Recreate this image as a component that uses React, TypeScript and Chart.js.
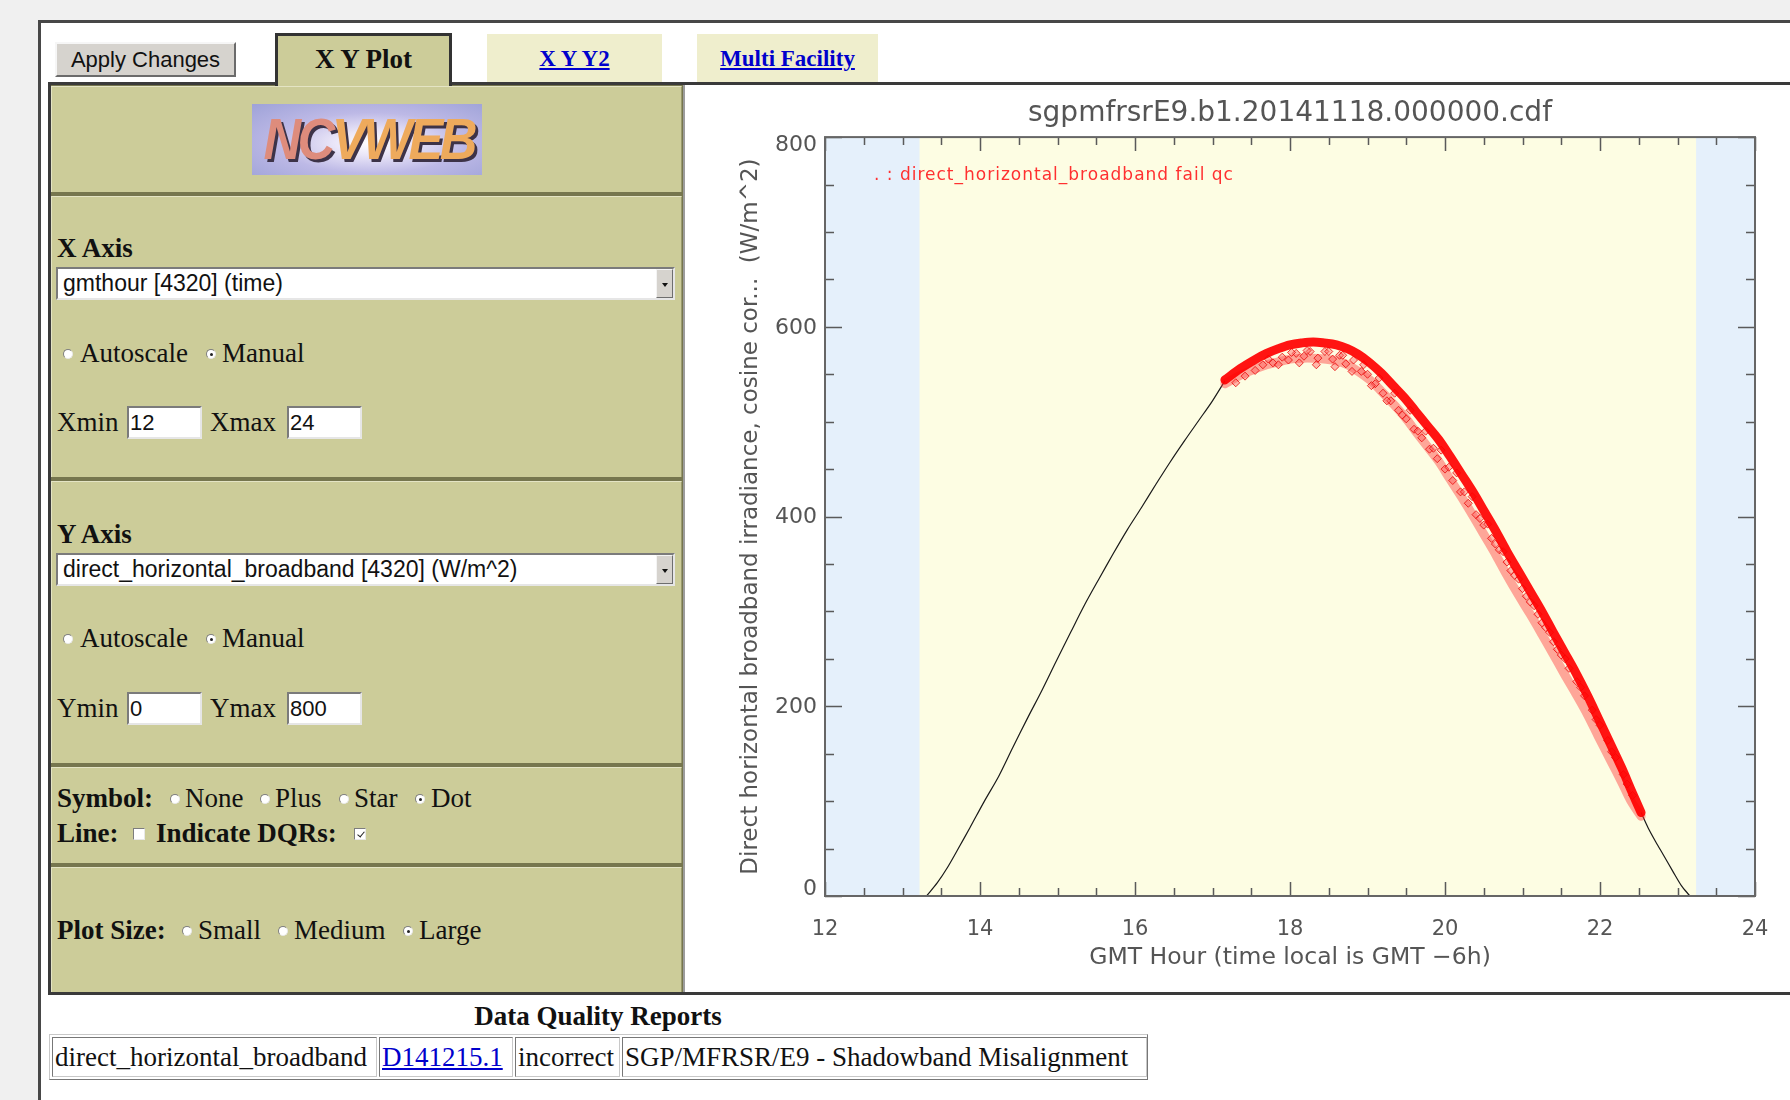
import React, { useEffect, useRef } from 'react';
import { Chart, registerables } from 'chart.js';

Chart.register(...registerables);

// ---------------- chart data ----------------
const chartTitle = 'sgpmfrsrE9.b1.20141118.000000.cdf';
const xAxisTitle = 'GMT Hour (time local is GMT \u22126h)';
const yAxisTitle = 'Direct horizontal broadband irradiance, cosine cor...  (W/m^2)';
const qcLabel = '. : direct_horizontal_broadband fail qc';

const xLimits = [12, 24];
const yLimits = [0, 800];
const xMajorStep = 2;
const xMinorStep = 0.5;
const yMajorStep = 200;
const yMinorStep = 50;

// night (sun below horizon) shading, GMT hours
const nightBands = [
  [12, 13.22],
  [23.24, 24],
];

// good-quality samples (black dots) before the DQR period
const riseHours = [13.31, 13.45, 13.58, 13.72, 13.87, 14.05, 14.24, 14.42, 14.61, 14.8, 14.98, 15.17, 15.35, 15.54, 15.72, 15.9, 16.08, 16.27, 16.45, 16.64, 16.82, 17.0, 17.16];
const riseValues = [0, 14, 30, 50, 72, 99, 126, 156, 187, 217, 247, 278, 307, 335, 361, 386, 409, 434, 457, 480, 501, 522, 543];

// good-quality samples after the DQR period
const setHours = [22.53, 22.62, 22.72, 22.82, 22.94, 23.05, 23.16];
const setValues = [88, 72, 57, 43, 26, 11, 0];

// samples flagged by the DQR (red): dense core of the band
const failHours = [17.16, 17.36, 17.56, 17.7, 17.85, 18.0, 18.15, 18.3, 18.44, 18.6, 18.74, 18.88, 19.03, 19.18, 19.33, 19.48, 19.62, 19.77, 19.92, 20.06, 20.21, 20.36, 20.51, 20.66, 20.8, 20.95, 21.1, 21.25, 21.39, 21.54, 21.69, 21.84, 21.98, 22.13, 22.28, 22.4, 22.53];
const failValues = [544, 556, 566, 572, 577, 581, 583, 584, 583, 581, 577, 571, 562, 551, 538, 525, 511, 496, 481, 464, 445, 426, 405, 384, 363, 342, 321, 300, 279, 257, 235, 211, 187, 161, 135, 112, 88];
// lower (fuzzy) edge of the flagged band
const failLowerValues = [540, 549, 556, 560, 563, 566, 567, 567, 566, 564, 560, 553, 544, 532, 519, 505, 490, 474, 458, 440, 421, 401, 380, 359, 338, 317, 297, 276, 256, 234, 213, 191, 168, 144, 120, 100, 84];

// flagged samples scattered below the core
const failScatterHours = [17.3, 17.42, 17.55, 17.65, 17.78, 17.9, 17.98, 18.08, 18.18, 18.26, 18.36, 18.45, 18.55, 18.64, 18.72, 18.82, 18.92, 19.0, 19.1, 19.2, 19.3, 19.4, 19.5, 19.6, 19.7, 19.8, 19.9, 20.0, 20.1, 20.2, 20.3, 20.4, 20.5, 20.6, 20.7, 20.8, 20.9, 21.0, 21.1, 21.2, 21.3, 21.4, 21.5, 21.6, 21.7, 21.8, 21.9, 22.0, 22.1, 22.2, 22.3, 22.42, 17.85, 18.12, 18.34, 18.58, 18.8, 19.05, 19.25, 19.45, 19.65, 19.85, 20.05, 20.25, 20.45, 20.65, 20.85, 21.05, 21.25, 21.45, 17.72, 18.02, 18.22, 18.5, 18.68, 18.95, 19.15, 19.35, 19.55, 19.75, 19.95, 20.15, 20.35, 20.55, 20.75, 20.95, 21.15, 21.35, 21.55, 21.75, 21.95, 22.15, 22.35];
const failScatterValues = [541, 548, 554, 560, 562, 568, 565, 572, 569, 574, 567, 574, 566, 570, 561, 565, 553, 550, 540, 530, 522, 512, 503, 492, 483, 471, 461, 450, 438, 426, 414, 402, 391, 377, 365, 352, 338, 324, 310, 297, 283, 268, 254, 240, 226, 211, 196, 180, 164, 146, 128, 106, 560, 562, 560, 558, 553, 538, 522, 507, 490, 472, 452, 426, 398, 371, 343, 316, 288, 260, 566, 573, 575, 574, 570, 560, 546, 530, 512, 490, 470, 446, 421, 392, 363, 334, 306, 278, 250, 220, 186, 152, 118];

const dayColor = '#fdfde3';
const nightColor = '#e5f0fb';
const chartFont = '"DejaVu Sans", "Noto Sans", sans-serif';

const toPoints = (xs: number[], ys: number[]) => xs.map((x, i) => ({ x, y: ys[i] }));

const isMultiple = (v: number, step: number) => Math.abs(v / step - Math.round(v / step)) < 1e-6;

const ncvPlugin = {
  id: 'ncvPlugin',
  beforeDraw(chart: any) {
    const { ctx, chartArea: a, scales } = chart;
    const xs = scales.x;
    ctx.save();
    ctx.fillStyle = '#ffffff';
    ctx.fillRect(0, 0, chart.width, chart.height);
    ctx.fillStyle = dayColor;
    ctx.fillRect(a.left, a.top, a.right - a.left, a.bottom - a.top);
    ctx.fillStyle = nightColor;
    nightBands.forEach(([s, e]) => {
      const x0 = xs.getPixelForValue(s);
      const x1 = xs.getPixelForValue(e);
      ctx.fillRect(x0, a.top, x1 - x0, a.bottom - a.top);
    });
    ctx.restore();
  },
  afterDraw(chart: any) {
    const { ctx, chartArea: a, scales } = chart;
    const xs = scales.x;
    const ys = scales.y;
    ctx.save();
    // inward tick marks on all four sides
    ctx.strokeStyle = '#5a5a5a';
    ctx.lineWidth = 1.5;
    ctx.beginPath();
    for (let v = xLimits[0]; v <= xLimits[1] + 1e-9; v += xMinorStep) {
      const px = Math.round(xs.getPixelForValue(v)) + 0.5;
      const len = isMultiple(v, xMajorStep) ? 14 : 8;
      ctx.moveTo(px, a.bottom);
      ctx.lineTo(px, a.bottom - len);
      ctx.moveTo(px, a.top);
      ctx.lineTo(px, a.top + len);
    }
    for (let v = yLimits[0]; v <= yLimits[1] + 1e-9; v += yMinorStep) {
      const py = Math.round(ys.getPixelForValue(v)) + 0.5;
      const len = isMultiple(v, yMajorStep) ? 17 : 9;
      ctx.moveTo(a.left, py);
      ctx.lineTo(a.left + len, py);
      ctx.moveTo(a.right, py);
      ctx.lineTo(a.right - len, py);
    }
    ctx.stroke();
    ctx.lineWidth = 2;
    ctx.strokeStyle = '#666666';
    ctx.strokeRect(a.left, a.top, a.right - a.left, a.bottom - a.top);

    // y tick labels, kept inside the axis range like the original plot
    ctx.fillStyle = '#555';
    ctx.font = '22px ' + chartFont;
    ctx.textAlign = 'right';
    ctx.textBaseline = 'middle';
    ys.ticks.forEach((t: any) => {
      const py = ys.getPixelForValue(t.value);
      const cy = Math.min(Math.max(py + 1, a.top + 8), a.bottom - 7);
      ctx.fillText(String(t.value), a.left - 8, cy);
    });

    // DQR legend text
    ctx.textAlign = 'left';
    ctx.fillStyle = '#ff3030';
    ctx.font = '17px ' + chartFont;
    try {
      (ctx as any).letterSpacing = '1px';
    } catch (e) {}
    ctx.fillText(qcLabel, a.left + 49, a.top + 38);
    ctx.restore();
  },
};

// ---------------- page helpers ----------------
const serif = '"Liberation Serif", "Times New Roman", serif';
const sans = '"Liberation Sans", Arial, sans-serif';
const khaki = '#cccc99';

function Txt(props: { x: number; cy: number; size?: number; bold?: boolean; family?: string; color?: string; underline?: boolean; children: any }) {
  const size = props.size ?? 27;
  return (
    <div
      style={{
        position: 'absolute',
        left: props.x,
        top: props.cy - size * 0.6,
        height: size * 1.2,
        lineHeight: `${size * 1.2}px`,
        fontSize: size,
        fontFamily: props.family ?? serif,
        fontWeight: props.bold ? 'bold' : 'normal',
        color: props.color ?? '#111',
        textDecoration: props.underline ? 'underline' : 'none',
        whiteSpace: 'nowrap',
      }}
    >
      {props.children}
    </div>
  );
}

function Radio({ x, cy, on }: { x: number; cy: number; on?: boolean }) {
  return (
    <div
      style={{
        position: 'absolute',
        left: x - 5,
        top: cy - 5,
        width: 10,
        height: 10,
        borderRadius: '50%',
        background: '#fff',
        boxSizing: 'border-box',
        border: '1px solid',
        borderColor: '#7d7d7d #e8e8e8 #e8e8e8 #7d7d7d',
      }}
    >
      {on && <div style={{ position: 'absolute', left: 2.5, top: 2.5, width: 3, height: 3, borderRadius: '50%', background: '#222' }} />}
    </div>
  );
}

function Check({ x, cy, on }: { x: number; cy: number; on?: boolean }) {
  return (
    <div
      style={{
        position: 'absolute',
        left: x - 6,
        top: cy - 6,
        width: 12,
        height: 12,
        background: '#fff',
        boxSizing: 'border-box',
        border: '1px solid',
        borderColor: '#7d7d7d #e8e8e8 #e8e8e8 #7d7d7d',
      }}
    >
      {on && (
        <div
          style={{
            position: 'absolute',
            left: 3.5,
            top: 0.5,
            width: 3,
            height: 6,
            borderRight: '1.5px solid #222',
            borderBottom: '1.5px solid #222',
            transform: 'rotate(40deg)',
          }}
        />
      )}
    </div>
  );
}

function SelectBox({ x, y, w, h, text }: { x: number; y: number; w: number; h: number; text: string }) {
  return (
    <div
      style={{
        position: 'absolute',
        left: x,
        top: y,
        width: w,
        height: h,
        boxSizing: 'border-box',
        background: '#fff',
        border: '2px solid',
        borderColor: '#7b7b7b #e6e6e6 #e6e6e6 #7b7b7b',
      }}
    >
      <div style={{ position: 'absolute', left: 5, top: 0, height: h - 4, lineHeight: `${h - 4}px`, fontFamily: sans, fontSize: 23, color: '#111', whiteSpace: 'nowrap' }}>{text}</div>
      <div
        style={{
          position: 'absolute',
          right: 0,
          top: 0,
          width: 17,
          height: h - 4,
          boxSizing: 'border-box',
          background: '#d6d3ce',
          border: '1px solid',
          borderColor: '#f4f4f4 #6e6e6e #6e6e6e #f4f4f4',
        }}
      >
        <div style={{ position: 'absolute', left: 5, top: (h - 4) / 2 - 2, width: 0, height: 0, borderLeft: '3px solid transparent', borderRight: '3px solid transparent', borderTop: '4px solid #111' }} />
      </div>
    </div>
  );
}

function InputBox({ x, y, text }: { x: number; y: number; text: string }) {
  return (
    <div
      style={{
        position: 'absolute',
        left: x,
        top: y,
        width: 75,
        height: 33,
        boxSizing: 'border-box',
        background: '#fff',
        border: '2px solid',
        borderColor: '#7b7b7b #e6e6e6 #e6e6e6 #7b7b7b',
        fontFamily: sans,
        fontSize: 22,
        lineHeight: '29px',
        paddingLeft: 1,
        color: '#111',
      }}
    >
      {text}
    </div>
  );
}

const sections = [
  [86, 192],
  [196, 477],
  [481, 763],
  [767, 863],
  [867, 992],
];

const dqrCells = [
  { x0: 50, x1: 377, text: 'direct_horizontal_broadband', link: false },
  { x0: 377, x1: 513, text: 'D141215.1', link: true },
  { x0: 513, x1: 620, text: 'incorrect', link: false },
  { x0: 620, x1: 1147, text: 'SGP/MFRSR/E9 - Shadowband Misalignment', link: false },
];

export default function App() {
  const canvasRef = useRef<HTMLCanvasElement>(null);

  useEffect(() => {
    if (!canvasRef.current) return;
    const chart = new Chart(canvasRef.current, {
      type: 'scatter',
      data: {
        datasets: [
          {
            label: 'rise',
            data: toPoints(riseHours, riseValues),
            showLine: true,
            borderColor: '#1a1a1a',
            borderWidth: 1.2,
            pointRadius: 0,
            tension: 0.3,
            order: 5,
          },
          {
            label: 'set',
            data: toPoints(setHours, setValues),
            showLine: true,
            borderColor: '#1a1a1a',
            borderWidth: 1.2,
            pointRadius: 0,
            tension: 0.3,
            order: 5,
          },
          {
            label: 'fail lower edge',
            data: toPoints(failHours, failLowerValues),
            showLine: true,
            borderColor: 'rgba(255,60,60,0.45)',
            borderWidth: 9,
            borderCapStyle: 'round',
            pointRadius: 0,
            tension: 0.35,
            order: 4,
          },
          {
            label: 'fail scatter',
            data: toPoints(failScatterHours, failScatterValues),
            showLine: false,
            pointStyle: 'rectRot',
            pointRadius: 4,
            pointBorderWidth: 1,
            pointBorderColor: 'rgba(230,0,0,0.75)',
            pointBackgroundColor: 'rgba(255,100,100,0.45)',
            order: 3,
          },
          {
            label: 'fail core',
            data: toPoints(failHours, failValues),
            showLine: true,
            borderColor: 'rgba(255,0,0,0.92)',
            borderWidth: 9,
            borderCapStyle: 'round',
            pointRadius: 0,
            tension: 0.35,
            order: 2,
          },
        ],
      } as any,
      options: {
        animation: false,
        responsive: false,
        devicePixelRatio: 1,
        events: [],
        layout: { padding: { left: 40, right: 35, top: 0, bottom: 0 } },
        plugins: {
          legend: { display: false },
          tooltip: { enabled: false },
          title: {
            display: true,
            text: chartTitle,
            fullSize: false,
            color: '#555',
            font: { family: chartFont, size: 28, weight: 'normal' },
            padding: { top: 8, bottom: 6.5 },
          },
        },
        scales: {
          x: {
            type: 'linear',
            min: xLimits[0],
            max: xLimits[1],
            grid: { display: false },
            border: { display: false },
            ticks: { stepSize: xMajorStep, color: '#555', padding: 13, font: { family: chartFont, size: 21 } },
            title: { display: true, text: xAxisTitle, color: '#555', font: { family: chartFont, size: 23.5 }, padding: { top: 0, bottom: 19 } },
            afterFit: (s: any) => {
              s.height = 95;
            },
          },
          y: {
            type: 'linear',
            min: yLimits[0],
            max: yLimits[1],
            grid: { display: false },
            border: { display: false },
            ticks: { display: false, stepSize: yMajorStep },
            title: { display: true, text: yAxisTitle, color: '#555', font: { family: chartFont, size: 23 }, padding: { top: 12, bottom: 0 } },
            afterFit: (s: any) => {
              s.width = 100;
            },
          },
        },
      } as any,
      plugins: [ncvPlugin],
    });
    return () => chart.destroy();
  }, []);

  return (
    <div style={{ position: 'absolute', left: 0, top: 0, width: 1790, height: 1100, overflow: 'hidden', background: '#f0f0f0' }}>
      {/* outer page frame */}
      <div style={{ position: 'absolute', left: 38, top: 20, width: 1800, height: 1200, background: '#fff', borderLeft: '3px solid #474747', borderTop: '3px solid #474747' }} />

      {/* Apply Changes button */}
      <div
        style={{
          position: 'absolute',
          left: 55,
          top: 42,
          width: 181,
          height: 35,
          boxSizing: 'border-box',
          background: '#d6d3ce',
          border: '2px solid',
          borderColor: '#f6f6f6 #6b6b6b #6b6b6b #f6f6f6',
          fontFamily: sans,
          fontSize: 22,
          lineHeight: '31px',
          textAlign: 'center',
          color: '#111',
        }}
      >
        Apply Changes
      </div>

      {/* main container */}
      <div style={{ position: 'absolute', left: 48, top: 82, width: 1800, height: 913, boxSizing: 'border-box', border: '3px solid #3a3a3a', background: '#fff' }} />

      {/* tabs */}
      <div style={{ position: 'absolute', left: 275, top: 33, width: 177, height: 53, boxSizing: 'border-box', background: khaki, borderTop: '3px solid #333', borderLeft: '3px solid #333', borderRight: '3px solid #333', zIndex: 2 }}>
        <div style={{ textAlign: 'center', fontFamily: serif, fontWeight: 'bold', fontSize: 27, lineHeight: '46px', color: '#111' }}>X Y Plot</div>
      </div>
      <div style={{ position: 'absolute', left: 487, top: 34, width: 175, height: 48, background: '#efeecd', textAlign: 'center', fontFamily: serif, fontWeight: 'bold', fontSize: 23, lineHeight: '50px', color: '#0000cc', textDecoration: 'underline' }}>X Y Y2</div>
      <div style={{ position: 'absolute', left: 697, top: 34, width: 181, height: 48, background: '#efeecd', textAlign: 'center', fontFamily: serif, fontWeight: 'bold', fontSize: 23, lineHeight: '50px', color: '#0000cc', textDecoration: 'underline' }}>Multi Facility</div>

      {/* left control panel */}
      <div style={{ position: 'absolute', left: 51, top: 85, width: 633, height: 907, background: '#76764e' }} />
      {sections.map(([t, b], i) => (
        <div
          key={i}
          style={{ position: 'absolute', left: 51, top: t, width: 631, height: b - t, boxSizing: 'border-box', background: khaki, borderTop: '1px solid #e4e4c4', borderLeft: '1px solid #e4e4c4', borderRight: '1px solid #9a9a70' }}
        />
      ))}
      <div style={{ position: 'absolute', left: 683, top: 85, width: 2, height: 907, background: '#9c9c9c' }} />

      {/* logo */}
      <div
        style={{
          position: 'absolute',
          left: 252,
          top: 104,
          width: 230,
          height: 71,
          overflow: 'hidden',
          background: 'radial-gradient(ellipse at 52% 55%, #ffffff 0%, #eae6f8 22%, #bdb9e6 55%, #9ea2d8 100%)',
        }}
      >
        <div
          style={{
            position: 'absolute',
            left: 0,
            width: 230,
            top: 4,
            textAlign: 'center',
            fontFamily: sans,
            fontWeight: 'bold',
            fontStyle: 'italic',
            fontSize: 58,
            lineHeight: '62px',
            letterSpacing: -4,
            transform: 'scaleX(0.9)',
            textShadow: '3px 3px 0 #3d3348',
          }}
        >
          <span style={{ color: '#de8c7c' }}>NC</span>
          <span style={{ color: '#eeaa5c' }}>VWEB</span>
        </div>
      </div>

      {/* X axis section */}
      <Txt x={57} cy={248} bold>X Axis</Txt>
      <SelectBox x={56} y={267} w={619} h={33} text="gmthour [4320] (time)" />
      <Radio x={68} cy={354} />
      <Txt x={80} cy={353}>Autoscale</Txt>
      <Radio x={211} cy={354} on />
      <Txt x={222} cy={353}>Manual</Txt>
      <Txt x={57} cy={422}>Xmin</Txt>
      <InputBox x={127} y={406} text="12" />
      <Txt x={210} cy={422}>Xmax</Txt>
      <InputBox x={287} y={406} text="24" />

      {/* Y axis section */}
      <Txt x={57} cy={534} bold>Y Axis</Txt>
      <SelectBox x={56} y={553} w={619} h={33} text="direct_horizontal_broadband [4320] (W/m^2)" />
      <Radio x={68} cy={639} />
      <Txt x={80} cy={638}>Autoscale</Txt>
      <Radio x={211} cy={639} on />
      <Txt x={222} cy={638}>Manual</Txt>
      <Txt x={57} cy={708}>Ymin</Txt>
      <InputBox x={127} y={692} text="0" />
      <Txt x={210} cy={708}>Ymax</Txt>
      <InputBox x={287} y={692} text="800" />

      {/* symbol section */}
      <Txt x={57} cy={798} bold>Symbol:</Txt>
      <Radio x={175} cy={799} />
      <Txt x={185} cy={798}>None</Txt>
      <Radio x={265} cy={799} />
      <Txt x={275} cy={798}>Plus</Txt>
      <Radio x={344} cy={799} />
      <Txt x={354} cy={798}>Star</Txt>
      <Radio x={420} cy={799} on />
      <Txt x={431} cy={798}>Dot</Txt>
      <Txt x={57} cy={833} bold>Line:</Txt>
      <Check x={139} cy={834} />
      <Txt x={156} cy={833} bold>Indicate DQRs:</Txt>
      <Check x={360} cy={834} on />

      {/* plot size section */}
      <Txt x={57} cy={930} bold>Plot Size:</Txt>
      <Radio x={187} cy={931} />
      <Txt x={198} cy={930}>Small</Txt>
      <Radio x={283} cy={931} />
      <Txt x={294} cy={930}>Medium</Txt>
      <Radio x={408} cy={931} on />
      <Txt x={419} cy={930}>Large</Txt>

      {/* chart panel */}
      <div style={{ position: 'absolute', left: 685, top: 85, width: 1110, height: 907, background: '#fff' }} />
      <canvas ref={canvasRef} width={1105} height={902} style={{ position: 'absolute', left: 685, top: 89, width: 1105, height: 902 }} />

      {/* data quality reports */}
      <div style={{ position: 'absolute', left: 398, width: 400, top: 1000, textAlign: 'center', fontFamily: serif, fontWeight: 'bold', fontSize: 27, lineHeight: '32px', color: '#111' }}>Data Quality Reports</div>
      <div style={{ position: 'absolute', left: 49, top: 1034, width: 1099, height: 46, boxSizing: 'border-box', border: '1px solid', borderColor: '#c8c8c8 #777 #777 #c8c8c8', background: '#fff' }} />
      {dqrCells.map((c, i) => (
        <div
          key={i}
          style={{
            position: 'absolute',
            left: c.x0 + 2,
            top: 1037,
            width: c.x1 - c.x0 - 2,
            height: 40,
            boxSizing: 'border-box',
            border: '1px solid',
            borderColor: '#777 #c8c8c8 #c8c8c8 #777',
            fontFamily: serif,
            fontSize: 27,
            lineHeight: '38px',
            paddingLeft: 2,
            whiteSpace: 'nowrap',
            color: c.link ? '#0000cc' : '#111',
            textDecoration: c.link ? 'underline' : 'none',
          }}
        >
          {c.text}
        </div>
      ))}
    </div>
  );
}
